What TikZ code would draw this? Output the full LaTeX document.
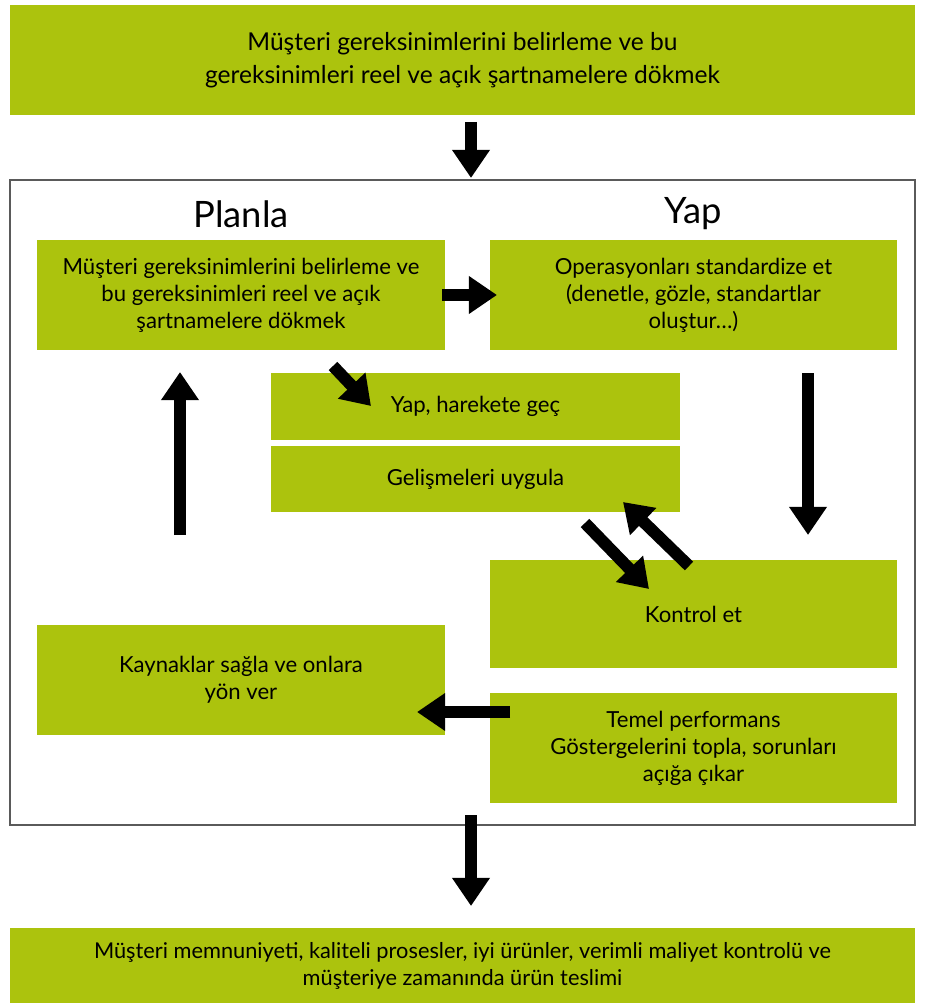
\documentclass[tikz,border=0pt]{standalone}
\usepackage{fontspec}
\setmainfont{Lato}
\usepackage{tikz}
\usetikzlibrary{arrows.meta,positioning}
\definecolor{boxgreen}{RGB}{172,195,13}
\definecolor{framegray}{RGB}{90,90,90}

\tikzset{
  gbox/.style={fill=boxgreen, draw=none, align=center, inner sep=0pt, font=\fontsize{12.6}{15.4}\selectfont},
  heading/.style={font=\fontsize{20.7}{24}\selectfont},
  fatarrow/.style={line width=6.8pt, -{Triangle[width=20.5pt,length=16pt]}}
}

\begin{document}
\begin{tikzpicture}[x=0.02cm,y=-0.02cm]
  \useasboundingbox (0,0) rectangle (926,1003);

  % outer frame
  \draw [framegray, line width=1.2pt] (10,180) rectangle (915,825);

  % boxes
  \node [gbox, minimum width=905*0.02cm, minimum height=110*0.02cm, font=\fontsize{14}{18.8}\selectfont] (need) at (462.5,60) {Müşteri gereksinimlerini belirleme ve bu\\gereksinimleri reel ve açık şartnamelere dökmek};
  \node [heading] (planla) at (241,214) {Planla};
  \node [heading] (yap) at (693,214) {Yap};
  \node [gbox, minimum width=408*0.02cm, minimum height=110*0.02cm] (plan) at (241,295) {Müşteri gereksinimlerini belirleme ve\\bu gereksinimleri reel ve açık\\şartnamelere dökmek};
  \node [gbox, minimum width=407*0.02cm, minimum height=110*0.02cm] (std) at (693.5,295) {Operasyonları standardize et\\(denetle, gözle, standartlar\\oluştur…)};
  \node [gbox, minimum width=409*0.02cm, minimum height=67*0.02cm] (act) at (475.5,406.5) {Yap, harekete geç};
  \node [gbox, minimum width=409*0.02cm, minimum height=66*0.02cm] (apply) at (475.5,479) {Gelişmeleri uygula};
  \node [gbox, minimum width=407*0.02cm, minimum height=108*0.02cm] (check) at (693.5,614) {Kontrol et};
  \node [gbox, minimum width=408*0.02cm, minimum height=110*0.02cm] (res) at (241,680) {Kaynaklar sağla ve onlara\\yön ver};
  \node [gbox, minimum width=407*0.02cm, minimum height=110*0.02cm] (kpi) at (693.5,748) {Temel performans\\Göstergelerini topla, sorunları\\açığa çıkar};
  \node [gbox, minimum width=905*0.02cm, minimum height=75*0.02cm, font=\fontsize{12.4}{15.4}\selectfont] (result) at (462.5,965.5) {Müşteri memnuniyeti, kaliteli prosesler, iyi ürünler, verimli maliyet kontrolü ve\\müşteriye zamanında ürün teslimi};

  % arrow ends
  \coordinate (d1) at (333,366);
  \coordinate (d2) at (371,406);
  \coordinate (u1) at (180,535);
  \coordinate (u2) at (180,372);
  \coordinate (r1) at (808,373);
  \coordinate (r2) at (808,535);
  \coordinate (c1) at (585,523);
  \coordinate (c2) at (649,589);
  \coordinate (c3) at (689,566);
  \coordinate (c4) at (623,502);
  \coordinate (k1) at (510,712);
  \coordinate (k2) at (417,712);

  % arrows
  \draw [fatarrow] (471,122) -- (471,178);
  \draw [fatarrow] (442,295) -- (497,295);
  \draw [fatarrow] (d1) -- (d2);
  \draw [fatarrow] (u1) -- (u2);
  \draw [fatarrow] (r1) -- (r2);
  \draw [fatarrow] (c1) -- (c2);
  \draw [fatarrow] (c3) -- (c4);
  \draw [fatarrow] (k1) -- (k2);
  \draw [fatarrow] (471,815) -- (471,906);
\end{tikzpicture}
\end{document}
